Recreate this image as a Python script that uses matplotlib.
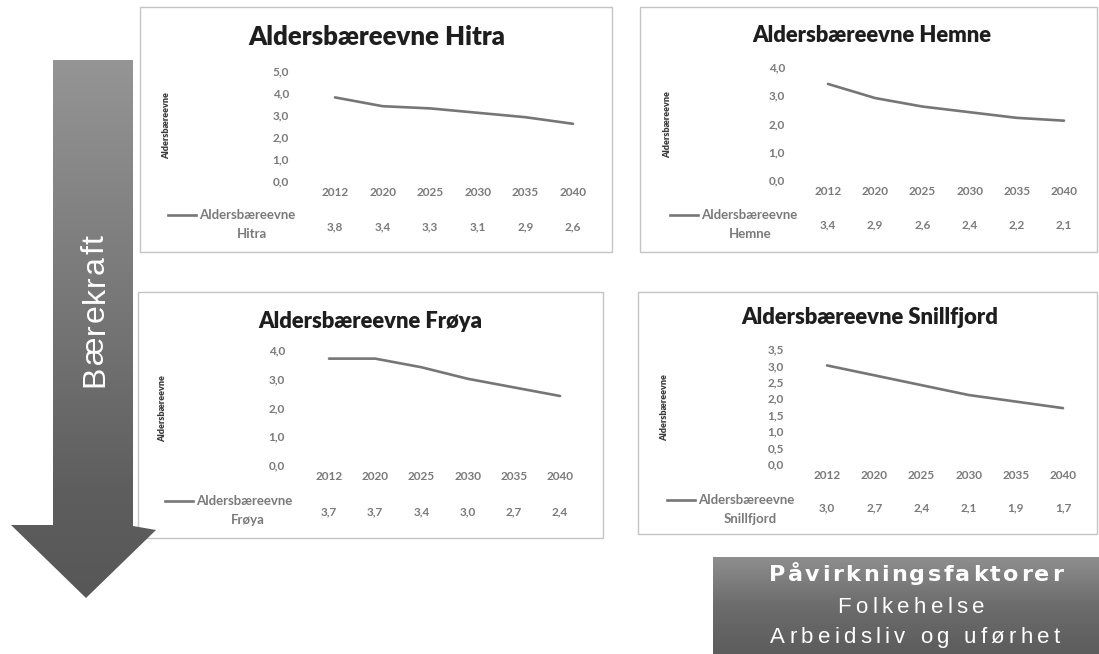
import numpy as np
import matplotlib
matplotlib.use("Agg")
import matplotlib.pyplot as plt
from matplotlib.patches import Polygon, Rectangle
from matplotlib.transforms import blended_transform_factory
from matplotlib.colors import LinearSegmentedColormap

# ---- data -------------------------------------------------------------
years = ["2012", "2020", "2025", "2030", "2035", "2040"]

hitra = [3.8, 3.4, 3.3, 3.1, 2.9, 2.6]
hemne = [3.4, 2.9, 2.6, 2.4, 2.2, 2.1]
froya = [3.7, 3.7, 3.4, 3.0, 2.7, 2.4]
snillfjord = [3.0, 2.7, 2.4, 2.1, 1.9, 1.7]

hitra_ticks = [0, 1, 2, 3, 4, 5]
hemne_ticks = [0, 1, 2, 3, 4]
froya_ticks = [0, 1, 2, 3, 4]
snillfjord_ticks = [0, 0.5, 1, 1.5, 2, 2.5, 3, 3.5]

series_label = "Aldersbæreevne"
arrow_label = "Bærekraft"
box_lines = ["Påvirkningsfaktorer", "Folkehelse", "Arbeidsliv og uførhet"]

# ---- figure -----------------------------------------------------------
W, H = 1099, 654
DPI = 100
plt.rcParams["font.family"] = ["Lato", "DejaVu Sans"]
SANS = ["Liberation Sans", "DejaVu Sans"]
WIDE = ["DejaVu Sans"]

fig = plt.figure(figsize=(W / DPI, H / DPI), dpi=DPI)
bg = fig.add_axes([0, 0, 1, 1], zorder=0)
bg.set_xlim(0, W)
bg.set_ylim(H, 0)
bg.axis("off")
renderer = fig.canvas.get_renderer()


def px_rect(x0, y0, x1, y1):
    return [x0 / W, 1 - y1 / H, (x1 - x0) / W, (y1 - y0) / H]


def comma(v):
    return f"{v:.1f}".replace(".", ",")


def _width(s, **kw):
    t = bg.text(0, 0, s, **kw)
    w = t.get_window_extent(renderer).width
    t.remove()
    return w


def spaced_text(cx, cy, s, span, vertical=False, **kw):
    """Text centred on (cx, cy) in pixels, letter-spaced to fill `span` pixels."""
    ref = _width("||", **kw)
    adv = [_width("|" + c + "|", **kw) - ref for c in s]
    track = (span - sum(adv)) / (len(s) - 1)
    size_px = kw.get("fontsize", 10) * DPI / 72
    base_off = 0.36 * size_px
    pos = -span / 2
    for c, a in zip(s, adv):
        if vertical:
            bg.text(cx + base_off, cy - pos, c, rotation=90, rotation_mode="anchor",
                    ha="left", va="baseline", **kw)
        else:
            bg.text(cx + pos, cy + base_off, c, ha="left", va="baseline", **kw)
        pos += a + track


LINE_C = "#767676"
TICK_C = "#7a7a7a"

panels = [
    dict(name="Hitra", vals=hitra, ticks=hitra_ticks,
         box=(140, 7, 612, 252), cx=(335, 573), cy=(71, 181),
         title=(377, 37), tsize=18.5, table_y=227, leg=(168, 215, 252, 234),
         ytitle=(167, 126), ypad=16),
    dict(name="Hemne", vals=hemne, ticks=hemne_ticks,
         box=(640, 7, 1097, 252), cx=(828, 1064), cy=(67, 180),
         title=(872, 35), tsize=15.8, table_y=225, leg=(670, 215, 750, 234),
         ytitle=(668, 125), ypad=14),
    dict(name="Frøya", vals=froya, ticks=froya_ticks,
         box=(138, 292, 603, 538), cx=(329, 560), cy=(350, 465),
         title=(370, 322), tsize=15.8, table_y=512, leg=(165, 501, 248, 520),
         ytitle=(163, 409), ypad=15),
    dict(name="Snillfjord", vals=snillfjord, ticks=snillfjord_ticks,
         box=(638, 292, 1097, 534), cx=(827, 1063), cy=(349, 464),
         title=(870, 317), tsize=15.8, table_y=508, leg=(667, 500, 750, 519),
         ytitle=(665, 408), ypad=14),
]

for p in panels:
    bx0, by0, bx1, by1 = p["box"]
    bg.add_patch(Rectangle((bx0, by0), bx1 - bx0, by1 - by0,
                           facecolor="white", edgecolor="#c4c4c4", lw=1.0))

    n = len(years)
    c0, c1 = p["cx"]
    step = (c1 - c0) / (n - 1)
    ax = fig.add_axes(px_rect(c0 - step / 2, p["cy"][0], c1 + step / 2, p["cy"][1]),
                      zorder=2)
    ax.set_facecolor("none")
    xs = np.arange(n)
    ax.plot(xs, p["vals"], color=LINE_C, lw=1.9, solid_capstyle="round")
    ax.set_xlim(-0.5, n - 0.5)
    ax.set_ylim(p["ticks"][0], p["ticks"][-1])
    ax.set_xticks(xs)
    ax.set_xticklabels(years)
    ax.set_yticks(p["ticks"])
    ax.set_yticklabels([comma(t) for t in p["ticks"]])
    ax.tick_params(axis="x", length=0, pad=4.5, labelsize=8.5, labelcolor=TICK_C)
    ax.tick_params(axis="y", length=0, pad=p["ypad"], labelsize=8.5, labelcolor=TICK_C)
    for lab in ax.get_xticklabels() + ax.get_yticklabels():
        lab.set_fontweight("bold")
    for s in ax.spines.values():
        s.set_visible(False)

    # data table row under the categories
    tr = blended_transform_factory(ax.transData, bg.transData)
    for x, v in zip(xs, p["vals"]):
        ax.text(x, p["table_y"], comma(v), transform=tr, ha="center", va="center",
                fontsize=8.5, fontweight="bold", color=TICK_C, clip_on=False)

    # legend key in the table header column
    lx, ly, nx, ny = p["leg"]
    bg.plot([lx, lx + 28], [ly, ly], color=LINE_C, lw=1.9)
    bg.text(lx + 31, ly, series_label, ha="left", va="center",
            fontsize=9.5, fontweight="bold", color=TICK_C)
    bg.text(nx, ny, p["name"], ha="center", va="center",
            fontsize=9.5, fontweight="bold", color=TICK_C)

    # chart title and y-axis title
    bg.text(p["title"][0], p["title"][1], series_label + " " + p["name"],
            ha="center", va="center", fontsize=p["tsize"], fontweight="heavy",
            color="#1e1e1e")
    bg.text(p["ytitle"][0], p["ytitle"][1], series_label, rotation=90,
            ha="center", va="center", fontsize=6.5, fontweight="heavy", color="#3a3a3a")

# ---- big downward arrow -----------------------------------------------
arrow_pts = [(53, 60), (133, 60), (133, 526), (156, 530), (86, 598),
             (11, 525), (53, 525)]
arrow = Polygon(arrow_pts, closed=True, facecolor="none", edgecolor="none")
bg.add_patch(arrow)
grad = np.linspace(0, 1, 256).reshape(-1, 1)
acmap = LinearSegmentedColormap.from_list(
    "arr", [(0, "#959595"), (0.5, "#747474"), (0.8, "#5e5e5e"), (1, "#575757")])
im = bg.imshow(grad, cmap=acmap, extent=(0, 170, 598, 58), aspect="auto",
               interpolation="bilinear", zorder=1)
im.set_clip_path(arrow)
spaced_text(92, 311, arrow_label, 152, vertical=True, fontsize=23,
            color="white", family=SANS, zorder=3)

# ---- box bottom right -------------------------------------------------
bcmap = LinearSegmentedColormap.from_list("box", ["#8e8e8e", "#6c6c6c", "#5c5c5c"])
bg.imshow(grad, cmap=bcmap, extent=(713, 1099, 654, 557), aspect="auto",
          interpolation="bilinear", zorder=1)
spaced_text(916, 573, box_lines[0], 294, fontsize=16, fontweight="bold",
            color="white", family=WIDE, zorder=3)
spaced_text(911, 605, box_lines[1], 147, fontsize=16,
            color="white", family=SANS, zorder=3)
spaced_text(915, 635, box_lines[2], 290, fontsize=16,
            color="white", family=SANS, zorder=3)

bg.set_xlim(0, W)
bg.set_ylim(H, 0)
fig.savefig("out.png", dpi=DPI)
